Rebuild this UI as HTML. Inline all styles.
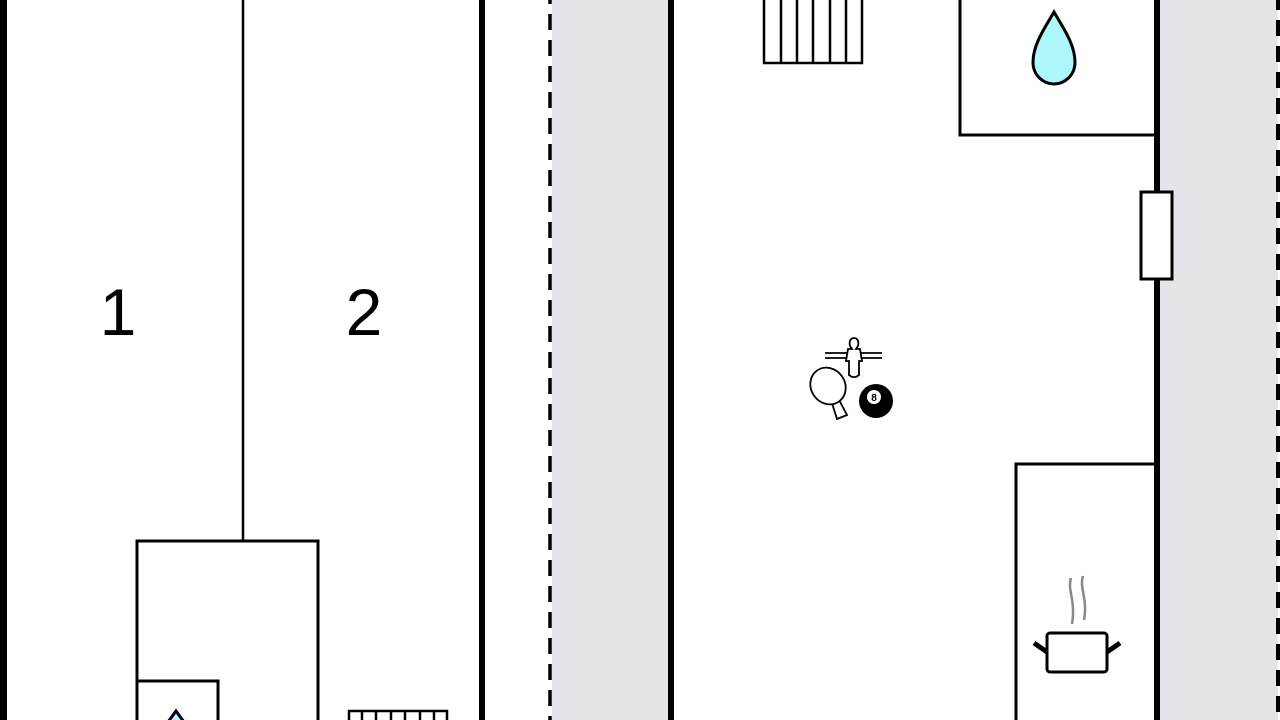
<!DOCTYPE html>
<html><head><meta charset="utf-8"><style>html,body{margin:0;padding:0;background:#fff;}svg{display:block}</style></head>
<body>
<svg width="1280" height="720" viewBox="0 0 1280 720" xmlns="http://www.w3.org/2000/svg">
<rect x="0" y="0" width="1280" height="720" fill="#fff"/>
<rect x="552" y="0" width="117" height="720" fill="#e5e4e9"/>
<rect x="1160" y="0" width="118" height="720" fill="#e5e4e9"/>
<rect x="0" y="0" width="7" height="720" fill="#000"/>
<rect x="479" y="0" width="6" height="720" fill="#000"/>
<rect x="668" y="0" width="6" height="720" fill="#000"/>
<rect x="1154" y="0" width="6" height="720" fill="#000"/>
<line x1="550" y1="0" x2="550" y2="720" stroke="#000" stroke-width="3.5" stroke-dasharray="16 10" stroke-dashoffset="12"/>
<line x1="1278" y1="0" x2="1278" y2="720" stroke="#000" stroke-width="4" stroke-dasharray="16 10" stroke-dashoffset="6"/>
<line x1="243" y1="0" x2="243" y2="541" stroke="#000" stroke-width="2.5"/>
<rect x="137" y="541" width="181" height="190" fill="none" stroke="#000" stroke-width="3"/>
<rect x="137" y="681" width="81" height="50" fill="none" stroke="#000" stroke-width="3"/>
<path d="M176 711 L168 722 L184 722 Z" fill="#aef8fb" stroke="#000" stroke-width="3"/>
<g stroke="#000" stroke-width="2.5" fill="none">
<rect x="349" y="711" width="98" height="20"/>
<line x1="362" y1="711" x2="362" y2="720"/><line x1="376" y1="711" x2="376" y2="720"/><line x1="391" y1="711" x2="391" y2="720"/><line x1="405" y1="711" x2="405" y2="720"/><line x1="420" y1="711" x2="420" y2="720"/><line x1="434" y1="711" x2="434" y2="720"/>
</g>
<text x="118" y="335" font-family="Liberation Sans, sans-serif" font-size="66" text-anchor="middle">1</text>
<text x="364" y="335" font-family="Liberation Sans, sans-serif" font-size="66" text-anchor="middle">2</text>
<g stroke="#000" stroke-width="2.5" fill="none">
<rect x="764" y="-5" width="98" height="68"/>
<line x1="781" y1="0" x2="781" y2="63"/><line x1="797" y1="0" x2="797" y2="63"/><line x1="813" y1="0" x2="813" y2="63"/><line x1="830" y1="0" x2="830" y2="63"/><line x1="846" y1="0" x2="846" y2="63"/>
</g>
<rect x="960" y="-5" width="197" height="140" fill="none" stroke="#000" stroke-width="3"/>
<path d="M1054 12 C1046 26 1033 44 1033 62 C1033 76 1044 84 1054 84 C1064 84 1075 76 1075 62 C1075 44 1062 26 1054 12 Z" fill="#aef8fb" stroke="#000" stroke-width="3"/>
<rect x="1141" y="192" width="31" height="87" fill="#fff" stroke="#000" stroke-width="3"/>
<rect x="1016" y="464" width="141" height="270" fill="none" stroke="#000" stroke-width="3"/>
<path d="M1071 578 C1067 590 1076 600 1072 624 M1083 576 C1079 588 1088 598 1084 620" stroke="#888" stroke-width="2.5" fill="none"/>
<rect x="1047" y="633" width="60" height="39" rx="3" fill="#fff" stroke="#000" stroke-width="3"/>
<line x1="1034" y1="643" x2="1047" y2="652" stroke="#000" stroke-width="5"/>
<line x1="1120" y1="643" x2="1107" y2="652" stroke="#000" stroke-width="5"/>
<g stroke="#000" stroke-width="1.8" fill="#fff">
<line x1="825" y1="353" x2="882" y2="353"/><line x1="825" y1="358" x2="882" y2="358"/>
<path d="M854 338 c-4 0 -5 4 -4 8 l2 3 h-4 l-2 12 h3 v14 l3 2 h4 l3 -2 v-14 h3 l-2 -12 h-4 l2 -3 c1 -4 0 -8 -4 -8 z"/>
<path d="M831 400 l6 19 l10 -4 l-9 -17 z"/>
<ellipse cx="828" cy="386" rx="17" ry="19" transform="rotate(-35 828 386)"/>
</g>
<circle cx="876" cy="401" r="17" fill="#000"/>
<circle cx="874" cy="397" r="7" fill="#fff"/>
<text x="874" y="401" font-family="Liberation Sans, sans-serif" font-size="10" font-weight="bold" text-anchor="middle">8</text>
</svg>
</body></html>
